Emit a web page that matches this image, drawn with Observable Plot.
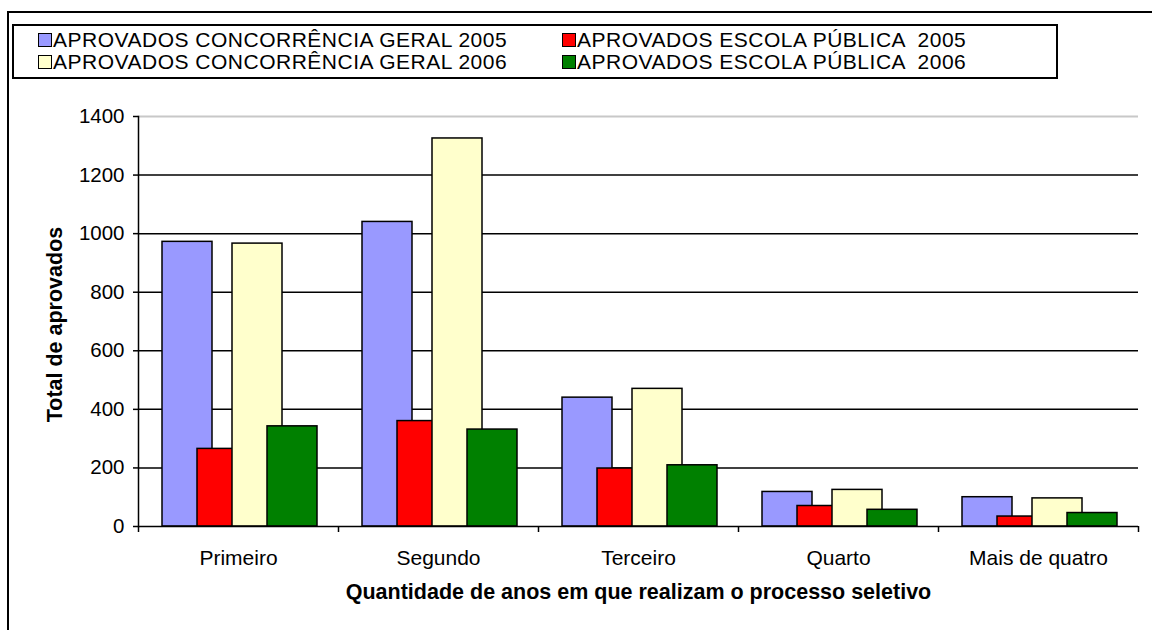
<!DOCTYPE html>
<html>
<head>
<meta charset="utf-8">
<script src="https://cdn.jsdelivr.net/npm/d3@7"></script>
<script src="https://cdn.jsdelivr.net/npm/@observablehq/plot@0.6"></script>
<style>
  body { margin: 0; background: #fff; font-family: "Liberation Sans", Arial, sans-serif; }
  #wrap { position: relative; width: 1152px; height: 630px; overflow: hidden; background: #fff; }
  #border { position: absolute; left: 7px; top: 11px; width: 1200px; height: 700px; border-left: 2px solid #000; border-top: 2px solid #000; }
  #chart { position: absolute; left: 0; top: 0; }
  #legend { position: absolute; left: 12px; top: 24px; width: 1042px; height: 51px; border: 2px solid #000; background: #fff; }
  .item { position: absolute; display: flex; align-items: center; font-size: 21px; line-height: 20px; white-space: pre; letter-spacing: 0.5px; color: #000; }
  .sw { width: 12px; height: 12px; border: 1px solid #000; margin-right: 1px; flex: none; }
</style>
</head>
<body>
<div id="wrap">
  <div id="border"></div>
  <div id="chart"></div>
  <div id="legend"></div>
</div>
<script>
const categories = ["Primeiro", "Segundo", "Terceiro", "Quarto", "Mais de quatro"];
const seriesNames = [
  "APROVADOS CONCORRÊNCIA GERAL 2005",
  "APROVADOS ESCOLA PÚBLICA  2005",
  "APROVADOS CONCORRÊNCIA GERAL 2006",
  "APROVADOS ESCOLA PÚBLICA  2006"
];
const geral2005   = [972, 1040, 440, 118, 100];
const publica2005 = [265, 360, 198, 70, 34];
const geral2006   = [966, 1325, 470, 125, 96];
const publica2006 = [342, 331, 209, 57, 46];
const seriesColors = ["#9999ff", "#ff0000", "#ffffcc", "#008000"];
const yTicks = [0, 200, 400, 600, 800, 1000, 1200, 1400];
const yTitle = "Total de aprovados";
const xTitle = "Quantidade de anos em que realizam o processo seletivo";

const seriesValues = [geral2005, publica2005, geral2006, publica2006];
const rows = [];
seriesValues.forEach((vals, k) => {
  categories.forEach((c, j) => rows.push({category: c, series: seriesNames[k], value: vals[j], k}));
});

const font = '"Liberation Sans", Arial, sans-serif';
const barMarks = seriesNames.map((s, k) =>
  Plot.barY(rows.filter(d => d.k === k), {
    x: "category", y: "value", fill: "series",
    stroke: "#000", strokeWidth: 1.5,
    insetLeft: 24 + 35 * k, insetRight: 126 - 35 * k
  })
);

const chart = Plot.plot({
  width: 1152,
  height: 630,
  marginLeft: 138,
  marginRight: 14,
  marginTop: 116,
  marginBottom: 104,
  style: {fontFamily: font, fontSize: "21px", background: "transparent", color: "#000"},
  x: {type: "band", domain: categories, padding: 0, label: null},
  y: {domain: [0, 1400], label: null},
  color: {domain: seriesNames, range: seriesColors},
  marks: [
    Plot.ruleY(yTicks.filter(v => v > 0 && v < 1400), {stroke: "#000", strokeWidth: 1.5}),
    Plot.ruleY([1400], {stroke: "#c8c8c8", strokeWidth: 2}),
    ...barMarks,
    Plot.ruleY([0], {stroke: "#000", strokeWidth: 1.5}),
    Plot.frame({anchor: "left", stroke: "#000", strokeWidth: 1.5}),
    Plot.ruleX(categories, {x: d => d, y1: 0, y2: 0, dx: -100, insetBottom: -6, stroke: "#000", strokeWidth: 1.5}),
    Plot.ruleX(categories.slice(-1), {x: d => d, y1: 0, y2: 0, dx: 100, insetBottom: -6, stroke: "#000", strokeWidth: 1.5}),
    Plot.axisY({ticks: yTicks, tickFormat: d3.format("d"), tickSize: 5, tickPadding: 9, strokeWidth: 1.5, fontSize: 20.5, label: null}),
    Plot.axisX({tickSize: 0, tickPadding: 24, fontSize: 21, label: null}),
    Plot.text([yTitle], {text: d => d, frameAnchor: "left", textAnchor: "middle", dx: -83, dy: 3, rotate: -90, fontWeight: "bold", fontSize: 21.5}),
    Plot.text([xTitle], {text: d => d, frameAnchor: "bottom", textAnchor: "middle", dy: 72, fontWeight: "bold", fontSize: 21.5})
  ]
});
document.getElementById("chart").appendChild(chart);

const legend = document.getElementById("legend");
seriesNames.forEach((s, k) => {
  const col = k % 2, row = Math.floor(k / 2);
  const item = document.createElement("div");
  item.className = "item";
  item.style.left = (col === 0 ? 24 : 548) + "px";
  item.style.top = (row === 0 ? 4 : 26) + "px";
  const sw = document.createElement("span");
  sw.className = "sw";
  sw.style.background = seriesColors[k];
  const t = document.createElement("span");
  t.textContent = s;
  item.appendChild(sw);
  item.appendChild(t);
  legend.appendChild(item);
});
</script>
</body>
</html>
